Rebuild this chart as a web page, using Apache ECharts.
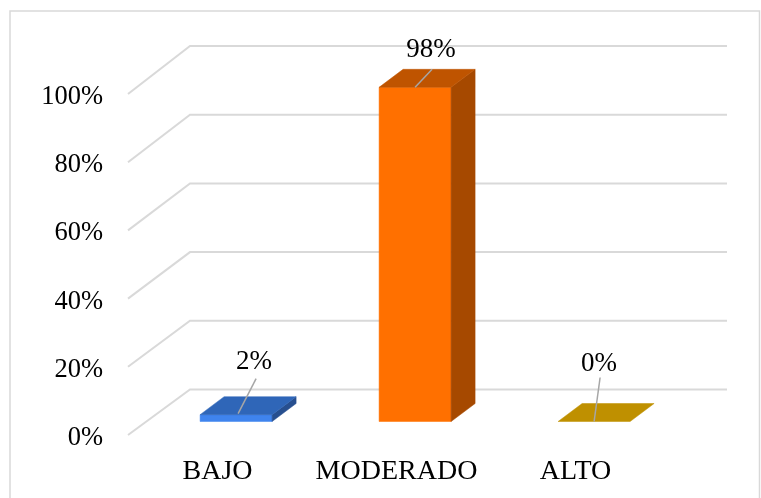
<!DOCTYPE html>
<html><head><meta charset="utf-8">
<style>html,body{margin:0;padding:0;background:#fff}#c{width:761px;height:498px}</style>
<script src="https://cdn.jsdelivr.net/npm/echarts@6/dist/echarts.min.js"></script>
</head><body><div id="c"></div>
<script>
const categories = ['BAJO', 'MODERADO', 'ALTO'];
const values = [2, 98, 0];
const valueLabels = ['2%', '98%', '0%'];
const ticks = [0, 20, 40, 60, 80, 100];
const faceColors = ['#3f84ee', '#ff7000', '#bf9000'];
const topColors = ['#2f66b8', '#bf5400', '#bf9000'];
const sideColors = ['#274f8f', '#a64900', '#bf9000'];
const labelOffsets = [[18, -53], [16, -37], [5, -58]];
const leaderStart = [[2, -1], [0, 0], [0, 0]];
const leaderEnd = [[20, -36], [17, -18], [6, -44]];

const FONT = '"Liberation Serif","Times New Roman",serif';
const WALL_DX = 62, WALL_DY0 = -45.5, WALL_DY100 = -48;
const BAR_W = 72, BAR_F = 0.3, BAR_DX = 24, BAR_DY = -18, BAR_OY = -13.5;

const chart = echarts.init(document.getElementById('c'), null, {renderer: 'canvas'});
chart.setOption({
  animation: false,
  backgroundColor: '#fff',
  graphic: [{type: 'rect', z: 0, silent: true,
    shape: {x: 10, y: 11, width: 749.5, height: 500},
    style: {fill: 'none', stroke: '#d9d9d9', lineWidth: 1.5}}],
  grid: {left: 128, right: 96, top: 94, bottom: 63},
  xAxis: {type: 'category', data: categories,
    axisLine: {show: false}, axisTick: {show: false}, splitLine: {show: false},
    axisLabel: {fontFamily: FONT, fontSize: 28, color: '#000', margin: 23, interval: 0}},
  yAxis: {type: 'value', min: 0, max: 100, interval: 20,
    axisLine: {show: false}, axisTick: {show: false}, splitLine: {show: false},
    axisLabel: {fontFamily: FONT, fontSize: 26.5, color: '#000', margin: 25, verticalAlign: 'top', lineHeight: 6, formatter: '{value}%'}},
  series: [
    {type: 'custom', z: 1, silent: true, clip: false,
      data: ticks.map(t => [0, t]),
      encode: {y: 1},
      renderItem(params, api) {
        const cs = params.coordSys, v = api.value(1);
        const y = api.coord([0, v])[1];
        const dy = WALL_DY0 + (WALL_DY100 - WALL_DY0) * v / 100;
        return {type: 'polyline', silent: true,
          shape: {points: [[cs.x, y], [cs.x + WALL_DX, y + dy], [cs.x + cs.width + WALL_DX, y + dy]]},
          style: {fill: null, stroke: '#d9d9d9', lineWidth: 2}};
      }},
    {type: 'custom', z: 2, silent: true, clip: false,
      data: values.map((v, i) => [i, v]),
      encode: {x: 0, y: 1},
      renderItem(params, api) {
        const i = api.value(0), v = api.value(1);
        const base = api.coord([i, 0]), top = api.coord([i, v]);
        const ox = WALL_DX * BAR_F;
        const l = base[0] - BAR_W / 2 + ox, r = l + BAR_W;
        const b = base[1] + BAR_OY, t = top[1] + BAR_OY;
        const poly = (pts, fill) => ({type: 'polygon', shape: {points: pts},
          style: {fill, stroke: fill, lineWidth: 0.5}});
        const children = [];
        if (v > 0) {
          children.push(poly([[l, b], [r, b], [r, t], [l, t]], faceColors[i]));
          children.push(poly([[r, b], [r + BAR_DX, b + BAR_DY], [r + BAR_DX, t + BAR_DY], [r, t]], sideColors[i]));
        }
        children.push(poly([[l, t], [r, t], [r + BAR_DX, t + BAR_DY], [l + BAR_DX, t + BAR_DY]], topColors[i]));
        const cx = l + BAR_W / 2;
        children.push({type: 'line', shape: {
            x1: cx + leaderStart[i][0], y1: t + leaderStart[i][1],
            x2: cx + leaderEnd[i][0], y2: t + leaderEnd[i][1]},
          style: {stroke: '#a6a6a6', lineWidth: 1.5}});
        children.push({type: 'text', style: {
            text: valueLabels[i], x: cx + labelOffsets[i][0], y: t + labelOffsets[i][1],
            fontFamily: FONT, fontSize: 27, fill: '#000', align: 'center', verticalAlign: 'middle'}});
        return {type: 'group', children};
      }}
  ]
});
</script></body></html>
